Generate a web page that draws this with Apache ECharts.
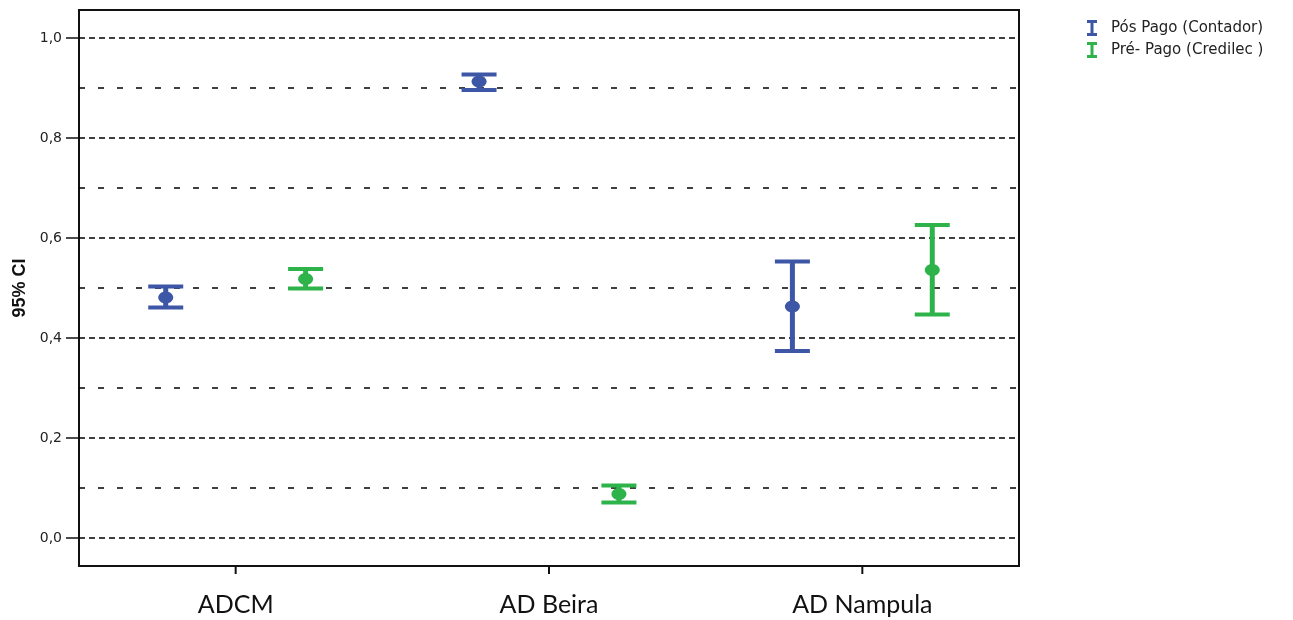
<!DOCTYPE html>
<html>
<head>
<meta charset="utf-8">
<script src="https://cdn.jsdelivr.net/npm/echarts@6/dist/echarts.min.js"></script>
<style>html,body{margin:0;padding:0;background:#fff}#c{width:1293px;height:620px}</style>
</head>
<body>
<div id="c"></div>
<script>
const categories = ['ADCM', 'AD Beira', 'AD Nampula'];
const seriesNames = ['Pós Pago (Contador)', 'Pré- Pago (Credilec )'];
const posMean = [0.481, 0.913, 0.463];
const posLow  = [0.461, 0.896, 0.374];
const posHigh = [0.503, 0.927, 0.553];
const preMean = [0.518, 0.088, 0.536];
const preLow  = [0.499, 0.071, 0.447];
const preHigh = [0.538, 0.105, 0.626];
const majorTicks = [0, 0.2, 0.4, 0.6, 0.8, 1.0];
const minorLines = [0.1, 0.3, 0.5, 0.7, 0.9];
const Y_MIN = -0.056, Y_MAX = 1.056;

const BLUE = '#3D56A6';
const GREEN = '#2DB34A';

function makeRender(frac, color) {
  return function (params, api) {
    const x = api.value(0);
    const band = api.size([1, 0])[0];
    const dx = band * frac;
    const pm = api.coord([x, api.value(1)]);
    const pl = api.coord([x, api.value(2)]);
    const ph = api.coord([x, api.value(3)]);
    const cx = pm[0] + dx;
    const half = 17.5;
    const st = { stroke: color, lineWidth: 4 };
    return {
      type: 'group',
      children: [
        { type: 'line', shape: { x1: cx, y1: ph[1], x2: cx, y2: pl[1] }, style: { stroke: color, lineWidth: 5 } },
        { type: 'line', shape: { x1: cx - half, y1: ph[1], x2: cx + half, y2: ph[1] }, style: st },
        { type: 'line', shape: { x1: cx - half, y1: pl[1], x2: cx + half, y2: pl[1] }, style: st },
        { type: 'ellipse', shape: { cx: cx, cy: pm[1], rx: 7.5, ry: 6 }, style: { fill: color } }
      ]
    };
  };
}

function renderYTick(params, api) {
  const p = api.coord([0, api.value(1)]);
  const left = p[0] - api.size([1, 0])[0] / 2;
  return { type: 'line', shape: { x1: left - 13, y1: p[1], x2: left, y2: p[1] }, style: { stroke: '#111', lineWidth: 1.5 } };
}
function renderXTick(params, api) {
  const p = api.coord([api.value(0), Y_MIN]);
  return { type: 'line', shape: { x1: p[0], y1: p[1], x2: p[0], y2: p[1] + 8 }, style: { stroke: '#111', lineWidth: 2 } };
}

const posData = categories.map((c, i) => [i, posMean[i], posLow[i], posHigh[i]]);
const preData = categories.map((c, i) => [i, preMean[i], preLow[i], preHigh[i]]);
const yTickData = majorTicks.map(v => [0, v]);
const xTickData = categories.map((c, i) => [i, Y_MIN]);

const gridLines = majorTicks.map(v => ({ yAxis: v, lineStyle: { type: [6, 4] } }))
  .concat(minorLines.map(v => ({ yAxis: v, lineStyle: { type: [6, 13] } })));

const chart = echarts.init(document.getElementById('c'), null, { renderer: 'canvas' });
chart.setOption({
  animation: false,
  backgroundColor: '#fff',
  grid: { left: 79, right: 274, top: 10, bottom: 54, show: true, borderColor: '#111', borderWidth: 2 },
  legend: {
    data: seriesNames,
    orient: 'vertical',
    left: 1082, top: 15,
    itemWidth: 10, itemHeight: 16, itemGap: 6,
    icon: 'path://M0,0H10V3H6.5V13H10V16H0V13H3.5V3H0Z',
    textStyle: { fontFamily: 'DejaVu Sans', fontSize: 15, color: '#222', padding: [0, 0, 0, 9] }
  },
  xAxis: {
    type: 'category',
    data: categories,
    boundaryGap: true,
    axisLine: { onZero: false, lineStyle: { color: '#111', width: 2 } },
    axisTick: { show: false },
    axisLabel: { fontFamily: 'Lato', fontSize: 25, color: '#111', margin: 26 },
    splitLine: { show: false }
  },
  yAxis: {
    type: 'value',
    min: Y_MIN, max: Y_MAX,
    name: '95% CI',
    nameLocation: 'middle',
    nameGap: 50,
    nameTextStyle: { fontFamily: 'Liberation Sans', fontWeight: 'bold', fontSize: 18, color: '#111' },
    axisLine: { show: true, lineStyle: { color: '#111', width: 2 } },
    axisTick: { show: false },
    axisLabel: { customValues: majorTicks, fontFamily: 'DejaVu Sans', fontSize: 14, color: '#222', margin: 17,
      formatter: v => v.toFixed(1).replace('.', ',') },
    splitLine: { show: false }
  },
  series: [
    {
      name: 'gridlines', type: 'line', data: [], silent: true,
      markLine: { silent: true, symbol: 'none', label: { show: false }, animation: false,
        lineStyle: { color: '#000', width: 1.5 }, data: gridLines },
      z: 1
    },
    { name: 'yticks', type: 'custom', silent: true, clip: false, renderItem: renderYTick,
      encode: { x: 0, y: 1 }, data: yTickData, z: 2 },
    { name: 'xticks', type: 'custom', silent: true, clip: false, renderItem: renderXTick,
      encode: { x: 0, y: 1 }, data: xTickData, z: 2 },
    { name: seriesNames[0], type: 'custom', itemStyle: { color: BLUE }, renderItem: makeRender(-0.2232, BLUE),
      encode: { x: 0, y: [1, 2, 3] }, data: posData, z: 5 },
    { name: seriesNames[1], type: 'custom', itemStyle: { color: GREEN }, renderItem: makeRender(0.2232, GREEN),
      encode: { x: 0, y: [1, 2, 3] }, data: preData, z: 5 }
  ]
});
</script>
</body>
</html>
